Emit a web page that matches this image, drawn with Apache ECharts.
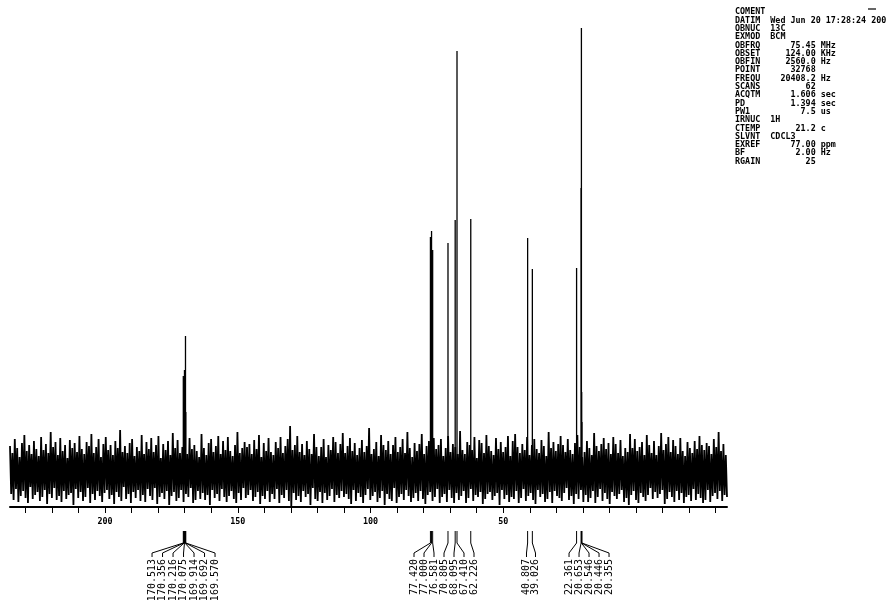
<!DOCTYPE html>
<html><head><meta charset="utf-8">
<script src="https://cdn.jsdelivr.net/npm/echarts@6/dist/echarts.min.js"></script>
<style>html,body{margin:0;padding:0;background:#fff}#c{width:886px;height:601px}</style>
</head><body><div id="c"></div>
<script>
// ---- data ----
const peakPpm = [170.513,170.356,170.216,170.075,169.914,169.692,169.570,
                 77.420,77.000,76.581,70.805,68.095,67.410,62.226,
                 40.807,39.026,
                 22.361,20.653,20.546,20.446,20.355];
const peakHeight = [96,70,94,102,90,136,60,
                    235,241,222,229,252,421,253,
                    234,203,
                    204,284,444,80,50];
const peakGroup = [0,0,0,0,0,0,0, 1,1,1,1,1,1,1, 2,2, 3,3,3,3,3];
const tickValues = [230,220,210,200,190,180,170,160,150,140,130,120,110,100,90,80,70,60,50,40,30,20,10,0,-10,-20,-30];
const tickLabels = [200,150,100,50];
const noise = [
26,-22,19,-28,33,-17,24,-30,15,-24,29,-19,37,-26,21,-31,27,-15,18,-27,
31,-23,23,-20,16,-29,35,-25,22,-18,28,-32,19,-22,40,-26,25,-16,30,-28,
17,-24,34,-30,21,-19,27,-27,14,-23,32,-21,24,-33,29,-17,20,-26,36,-20,
23,-29,18,-25,30,-16,26,-31,38,-22,19,-28,25,-19,33,-24,15,-30,28,-21,
35,-18,22,-27,27,-23,17,-32,31,-20,24,-25,42,-29,20,-15,26,-27,19,-22,
29,-31,33,-20,16,-26,25,-18,21,-29,37,-23,18,-30,30,-17,23,-24,34,-28,
20,-16,27,-32,36,-25,14,-21,28,-27,22,-19,31,-33,17,-24,39,-20,24,-29,
32,-26,19,-18,25,-30,30,-22,18,-25,34,-16,23,-31,27,-28,21,-19,15,-27,
38,-21,24,-28,17,-23,29,-33,33,-18,20,-26,26,-22,36,-29,18,-17,31,-25,
22,-30,35,-24,21,-19,16,-27,27,-31,40,-21,19,-28,24,-16,30,-26,25,-23,
28,-18,18,-29,32,-25,23,-20,37,-32,15,-24,29,-27,21,-19,34,-30,20,-22,
17,-27,30,-17,24,-31,35,-23,19,-26,26,-18,33,-29,46,-34,22,-21,27,-28,
36,-24,20,-30,28,-19,17,-25,31,-22,23,-33,18,-16,38,-27,25,-29,16,-20,
25,-31,33,-21,15,-28,27,-24,22,-17,35,-30,30,-23,19,-26,28,-19,39,-25,
19,-22,26,-27,34,-32,21,-18,29,-29,17,-21,24,-25,32,-31,20,-23,26,-17,
44,-28,18,-24,23,-20,30,-30,16,-26,37,-19,27,-33,22,-22,31,-27,18,-29,
27,-16,35,-31,20,-25,25,-22,33,-28,19,-18,40,-24,24,-30,15,-26,29,-21,
21,-29,28,-19,38,-27,18,-32,26,-23,31,-20,17,-29,34,-25,23,-17,27,-31,
33,-25,16,-22,24,-30,36,-18,20,-26,28,-31,25,-21,18,-28,41,-24,22,-19,
18,-31,30,-26,27,-17,22,-29,35,-23,14,-25,32,-20,29,-32,19,-27,37,-22,
26,-20,21,-28,17,-24,34,-21,23,-33,30,-18,20,-27,25,-23,36,-30,16,-25,
31,-27,38,-19,25,-31,19,-26,28,-17,22,-29,35,-24,17,-21,27,-28,33,-32,
23,-18,19,-25,32,-22,26,-30,16,-27,40,-20,24,-31,30,-19,21,-24,28,-26,
36,-29,27,-21,20,-16,33,-28,22,-24,18,-32,29,-22,37,-27,25,-18,15,-30,
20,-23,31,-30,24,-26,17,-19,39,-31,26,-25,21,-17,28,-29,34,-21,23,-27,
29,-32,18,-20,35,-24,28,-27,19,-22,32,-18,16,-30,24,-26,20,-33,38,-23,
24,-19,33,-28,21,-31,25,-21,30,-25,17,-29,37,-23,27,-16,19,-27,31,-20,
17,-26,26,-22,39,-18,22,-32,28,-27,35,-20,20,-25,32,-30,26,-19,18,-28,
34,-21,21,-31,16,-25,30,-23,24,-29,19,-17,31,-28,23,-22,36,-26,27,-31,
22,-28,29,-18,26,-30,18,-24,33,-21,25,-27,40,-19,21,-29,28,-23,17,-25
];
const paramNames  = ['COMENT','DATIM','OBNUC','EXMOD','OBFRQ','OBSET','OBFIN','POINT','FREQU','SCANS','ACQTM','PD','PW1','IRNUC','CTEMP','SLVNT','EXREF','BF','RGAIN'];
const paramValues = ['','Wed Jun 20 17:28:24 2001','13C','BCM','75.45','124.00','2560.0','32768','20408.2','62','1.606','1.394','7.5','1H','21.2','CDCL3','77.00','2.00','25'];
const paramUnits  = ['','','','','MHz','KHz','Hz','','Hz','','sec','sec','us','','c','','ppm','Hz',''];
const paramIsText = [true,true,true,true,false,false,false,false,false,false,false,false,false,true,false,true,false,false,false];

// ---- layout ----
const X_MIN = -34.3, X_MAX = 235.8, Y_MIN = -35, Y_MAX = 450;
const groupShift = [-1, -2.5, 1, 8.5];
const groupSpacing = [10.5, 10, 9, 10];

const groupInfo = {};
peakPpm.forEach((p, i) => {
  const g = peakGroup[i];
  if (!groupInfo[g]) groupInfo[g] = {sum: 0, n: 0, idx: {}};
  groupInfo[g].idx[i] = groupInfo[g].n;
  groupInfo[g].sum += p; groupInfo[g].n++;
});

const paramText = paramNames.map((n, i) => {
  let line = n.padEnd(7);
  if (paramIsText[i]) line += paramValues[i];
  else line += paramValues[i].padStart(9) + (paramUnits[i] ? ' ' + paramUnits[i] : '');
  return line;
}).join('\n');

const chart = echarts.init(document.getElementById('c'), null, {renderer: 'canvas'});
chart.setOption({
  animation: false,
  backgroundColor: '#fff',
  grid: {left: 10, right: 159, top: 22, bottom: 94},
  xAxis: [{
    type: 'value', min: X_MIN, max: X_MAX, inverse: true, position: 'bottom',
    axisLine: {onZero: false, lineStyle: {color: '#000', width: 2}},
    axisTick: {show: true, customValues: tickValues, length: 6, lineStyle: {color: '#000', width: 1}},
    axisLabel: {customValues: tickLabels, margin: 11, color: '#000', fontSize: 8.4, fontFamily: 'DejaVu Sans Mono', fontWeight: 'bold'},
    splitLine: {show: false}
  }, {
    type: 'category', data: noise.map((v, i) => i), boundaryGap: false, show: false
  }],
  yAxis: {type: 'value', min: Y_MIN, max: Y_MAX, show: false, splitLine: {show: false}},
  series: [{
    type: 'line', xAxisIndex: 1, data: noise, showSymbol: false, symbol: 'none', sampling: null,
    lineStyle: {color: '#000', width: 1.8}, z: 2, silent: true
  }, {
    type: 'custom', xAxisIndex: 0, z: 3,
    data: peakPpm.map((p, i) => [p, peakHeight[i]]),
    renderItem: function (params, api) {
      const a = api.coord([api.value(0), -5]);
      const b = api.coord([api.value(0), api.value(1)]);
      return {type: 'line', shape: {x1: a[0], y1: a[1], x2: b[0], y2: b[1]},
              style: {stroke: '#000', lineWidth: 1.3}};
    }
  }, {
    type: 'custom', xAxisIndex: 0, z: 4,
    data: peakPpm.map((p, i) => [p, i]),
    renderItem: function (params, api) {
      const i = api.value(1), ppm = peakPpm[i], g = peakGroup[i];
      const info = groupInfo[g];
      const px = api.coord([ppm, 0])[0];
      const axisY = api.coord([ppm, Y_MIN])[1];
      const cx = api.coord([info.sum / info.n, 0])[0] + groupShift[g];
      const lx = cx + (info.idx[i] - (info.n - 1) / 2) * groupSpacing[g];
      const yA = axisY + 24, yB = axisY + 36, yC = axisY + 46, yD = axisY + 50;
      return {type: 'group', children: [
        {type: 'polyline', shape: {points: [[px, yA], [px, yB], [lx, yC], [lx, yD]]},
         style: {stroke: '#000', lineWidth: 1, fill: null}},
        {type: 'text', x: lx, y: yD + 2, rotation: Math.PI / 2,
         style: {text: ppm.toFixed(3), font: '10px "DejaVu Sans Mono"', fill: '#000',
                 align: 'right', verticalAlign: 'middle'}}
      ]};
    }
  }],
  graphic: [
    {type: 'text', left: 735, top: 8, style: {text: paramText, font: 'bold 8.4px "DejaVu Sans Mono"', lineHeight: 8.3, fill: '#000'}},
    {type: 'line', shape: {x1: 868, y1: 9, x2: 876, y2: 9}, style: {stroke: '#000', lineWidth: 1.2}}
  ]
});
</script>
</body></html>
